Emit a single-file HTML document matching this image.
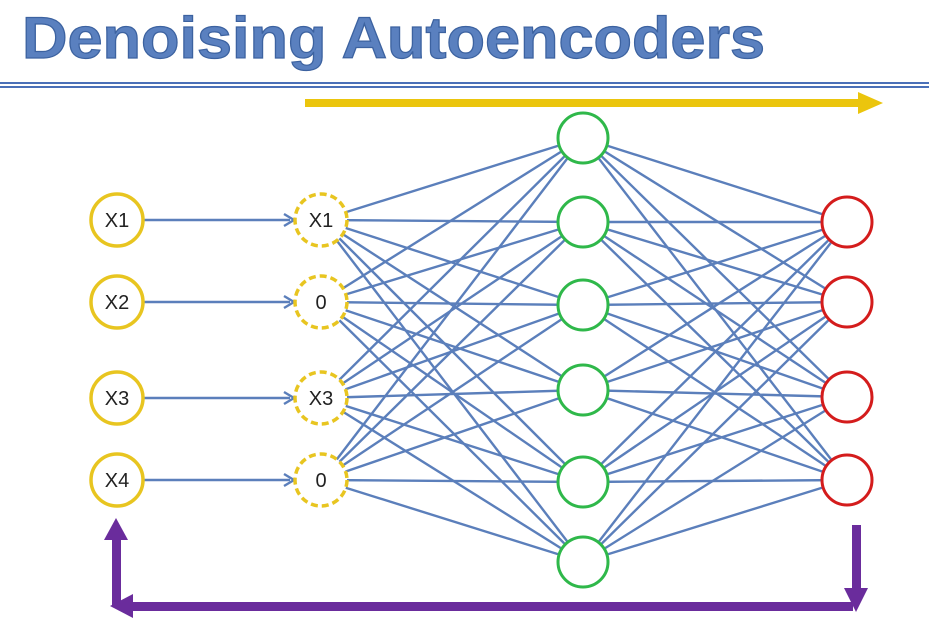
<!DOCTYPE html>
<html><head><style>body{margin:0;background:#fff;}svg{display:block}</style></head><body>
<svg width="929" height="624" xmlns="http://www.w3.org/2000/svg">
<text x="22" y="58" font-family="Liberation Sans, sans-serif" font-weight="bold" font-size="58" fill="#5a80bf" stroke="#3c62a0" stroke-width="1.2" textLength="743" lengthAdjust="spacingAndGlyphs">Denoising Autoencoders</text>
<rect x="0" y="82" width="929" height="2" fill="#4a70b8"/>
<rect x="0" y="86" width="929" height="2" fill="#4a70b8"/>
<line x1="305" y1="103" x2="862" y2="103" stroke="#ebc50d" stroke-width="8"/>
<polygon points="858,92 883,103 858,114" fill="#ebc50d"/>
<g stroke="#5b7fbb" stroke-width="2.4">
<line x1="143" y1="220" x2="290" y2="220"/><line x1="143" y1="302" x2="290" y2="302"/>
<line x1="143" y1="398" x2="290" y2="398"/><line x1="143" y1="480" x2="290" y2="480"/>
</g>
<g fill="none" stroke="#5b7fbb" stroke-width="2.4">
<polyline points="284,214 294,220 284,226"/><polyline points="284,296 294,302 284,308"/>
<polyline points="284,392 294,398 284,404"/><polyline points="284,474 294,480 284,486"/>
</g>
<g stroke="#5b7fbb" stroke-width="2.4" id="net"></g>
<script>
var g=document.getElementById('net'),ns='http://www.w3.org/2000/svg';
var A=[220,302,398,480],H=[138,222,305,390,482,562],O=[222,302,397,480];
function L(x1,y1,x2,y2){var l=document.createElementNS(ns,'line');l.setAttribute('x1',x1);l.setAttribute('y1',y1);l.setAttribute('x2',x2);l.setAttribute('y2',y2);g.appendChild(l);}
A.forEach(a=>H.forEach(h=>L(321,a,583,h)));H.forEach(h=>O.forEach(o=>L(583,h,847,o)));
</script>
<g fill="#fff" stroke="#e8c520" stroke-width="3.5">
<circle cx="117" cy="220" r="26"/><circle cx="117" cy="302" r="26"/><circle cx="117" cy="398" r="26"/><circle cx="117" cy="480" r="26"/>
</g>
<g fill="#fff" stroke="#e8c520" stroke-width="3.5" stroke-dasharray="7,4">
<circle cx="321" cy="220" r="26"/><circle cx="321" cy="302" r="26"/><circle cx="321" cy="398" r="26"/><circle cx="321" cy="480" r="26"/>
</g>
<g fill="#fff" stroke="#2fb84a" stroke-width="3">
<circle cx="583" cy="138" r="25"/><circle cx="583" cy="222" r="25"/><circle cx="583" cy="305" r="25"/><circle cx="583" cy="390" r="25"/><circle cx="583" cy="482" r="25"/><circle cx="583" cy="562" r="25"/>
</g>
<g fill="#fff" stroke="#d41c1c" stroke-width="3">
<circle cx="847" cy="222" r="25"/><circle cx="847" cy="302" r="25"/><circle cx="847" cy="397" r="25"/><circle cx="847" cy="480" r="25"/>
</g>
<g font-family="Liberation Sans, sans-serif" font-size="20" fill="#222" text-anchor="middle">
<text x="117" y="227">X1</text><text x="117" y="309">X2</text><text x="117" y="405">X3</text><text x="117" y="487">X4</text>
<text x="321" y="227">X1</text><text x="321" y="309">0</text><text x="321" y="405">X3</text><text x="321" y="487">0</text>
</g>
<g fill="#6a2c9c">
<rect x="112" y="535" width="9" height="72"/>
<polygon points="104,540 116,518 128,540"/>
<rect x="125" y="602" width="728" height="9"/>
<polygon points="133,594 110,606 133,618"/>
<rect x="852" y="525" width="9" height="70"/>
<polygon points="844,588 856,612 868,588"/>
</g>
</svg>
</body></html>
